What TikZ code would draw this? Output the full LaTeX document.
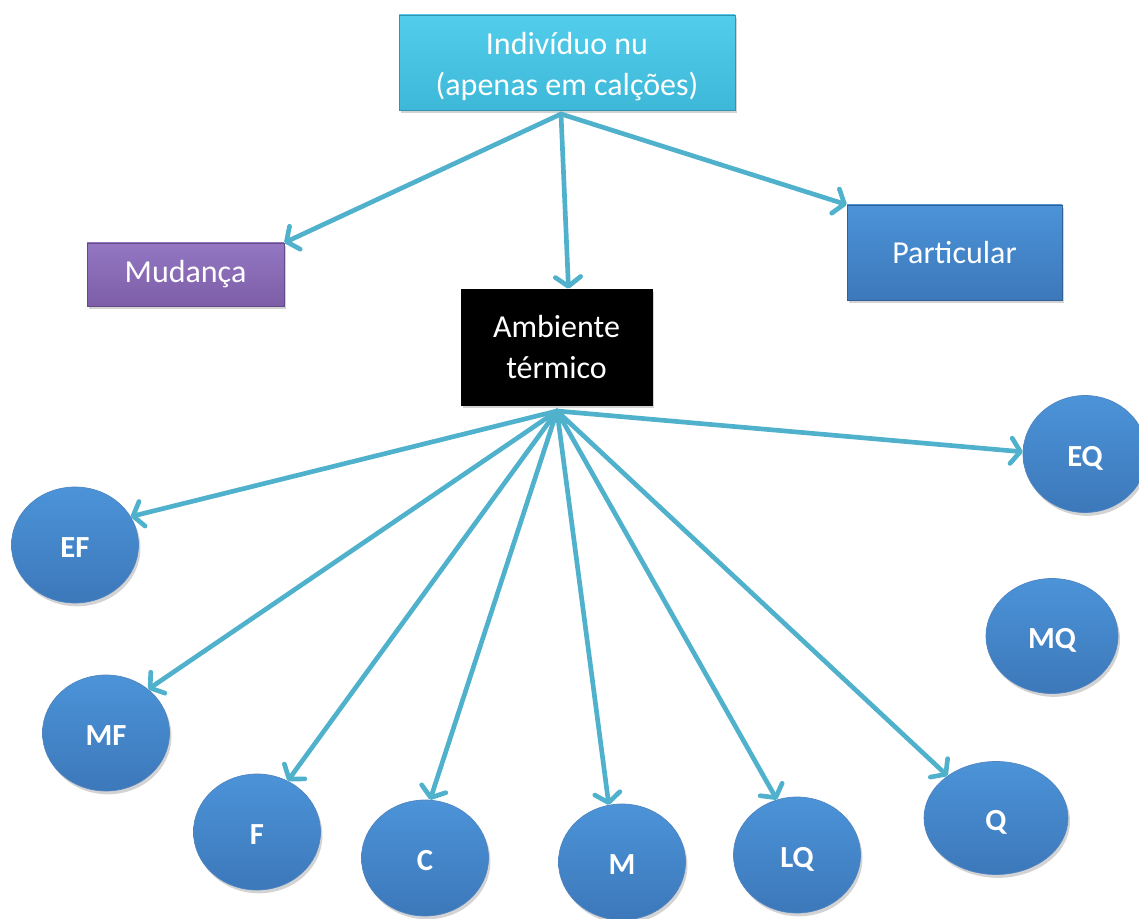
\documentclass[tikz,border=0pt]{standalone}
\usepackage{fontspec}
\setmainfont{Carlito}
\usetikzlibrary{arrows.meta,shapes.geometric,shadows}
\definecolor{arrowc}{HTML}{4FB1CB}
\definecolor{cyanT}{HTML}{52CDEB}
\definecolor{cyanB}{HTML}{3DB8D8}
\definecolor{purT}{HTML}{9377C2}
\definecolor{purB}{HTML}{7D5DA8}
\definecolor{bluT}{HTML}{4C93D8}
\definecolor{bluB}{HTML}{3C78BA}
\begin{document}
\begin{tikzpicture}[x=0.75pt,y=-0.75pt,
  shadowed/.style={drop shadow={shadow xshift=1.5pt,shadow yshift=-2.5pt,opacity=0.35}},
  boxtext/.style={text=white, align=center, inner sep=0pt, font=\fontsize{24}{31}\selectfont},
  box/.style={rectangle, shadowed, line width=0.5pt, boxtext},
  circ/.style={ellipse, shadowed, draw=bluB!90!white, line width=0.5pt, top color=bluT, bottom color=bluB,
    text=white, inner sep=0pt, minimum width=127*0.75pt, minimum height=116*0.75pt,
    text height=19pt, text depth=0pt,
    font=\bfseries\fontsize{23}{27}\selectfont},
  conn/.style={draw=arrowc, line width=3.5pt, line cap=round,
    -{Straight Barb[length=7pt,width=19pt,round]}}
]
\useasboundingbox (0,0) rectangle (1139,919);

\node[box, draw=cyanB!80!black, top color=cyanT, bottom color=cyanB,
  minimum width=336*0.75pt, minimum height=95*0.75pt,
  label={[boxtext, yshift=-3pt]center:Indivíduo nu\\(apenas em calções)}] (top) at (567,62.5) {};
\node[box, draw=purB!80!black, top color=purT, bottom color=purB,
  minimum width=197*0.75pt, minimum height=63*0.75pt] (mud) at (185.5,274.5) {Mudança};
\node[box, draw=bluB!80!black, top color=bluT, bottom color=bluB,
  minimum width=215*0.75pt, minimum height=95*0.75pt] (part) at (954.5,252.5) {Particular};
\node[box, draw=black, fill=black,
  minimum width=191*0.75pt, minimum height=116*0.75pt] (amb) at (556.5,347) {Ambiente\\térmico};

\node[circ] (EF) at (75,545) {EF};
\node[circ] (MF) at (106,733) {MF};
\node[circ] (F) at (257,832) {F};
\node[circ] (C) at (425,858) {C};
\node[circ] (M) at (622,862) {M};
\node[circ] (LQ) at (797,855) {LQ};
\node[circ, minimum width=144*0.75pt, minimum height=113*0.75pt] (Q) at (996,818) {Q};
\node[circ, minimum width=132*0.75pt, minimum height=115*0.75pt] (MQ) at (1052,636) {MQ};
\node[circ, minimum width=124*0.75pt, minimum height=117*0.75pt] (EQ) at (1085,454) {EQ};

\coordinate (topS) at (561,114);
\coordinate (ambS) at (557,411);

\draw[conn] (topS) -- (mud.north east);
\draw[conn] (topS) -- ([xshift=9pt]amb.north);
\draw[conn] (topS) -- (part.north west);

\draw[conn] (ambS) -- (EF.27);
\draw[conn] (ambS) -- (MF.46);
\draw[conn] (ambS) -- (F.59);
\draw[conn] (ambS) -- (C.85);
\draw[conn] (ambS) -- (M.103);
\draw[conn] (ambS) -- (LQ.110);
\draw[conn] (ambS) -- (Q.139);
\draw[conn] (ambS) -- (EQ.178);
\end{tikzpicture}
\end{document}
